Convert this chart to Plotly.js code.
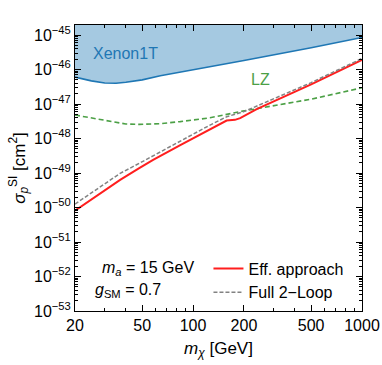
<!DOCTYPE html>
<html><head><meta charset="utf-8">
<script src="https://cdn.plot.ly/plotly-3.0.1.min.js"></script>
<style>html,body{margin:0;padding:0;background:#fff}#chart{width:382px;height:365px}</style>
</head><body><div id="chart"></div>
<script>
// Data (log10 of cross section in cm^2 vs DM mass in GeV)
const xenonMass = [20, 25, 30, 35, 40, 50, 64, 110, 200, 500, 1000];
const xenonLogSigma = [-46.22, -46.33, -46.39, -46.40, -46.37, -46.30, -46.18, -45.98, -45.74, -45.37, -45.07];
const lzMass = [20, 30, 40, 48, 64, 84, 126, 190, 500, 1000];
const lzLogSigma = [-47.32, -47.46, -47.58, -47.59, -47.57, -47.51, -47.40, -47.22, -46.86, -46.53];
const effMass = [20, 30, 37, 48, 58, 84, 126, 158, 177, 190, 238, 500, 1000];
const effLogSigma = [-50.09, -49.51, -49.20, -48.86, -48.62, -48.19, -47.73, -47.48, -47.46, -47.41, -47.15, -46.43, -45.72];
const fullMass = [20, 30, 37, 48, 84, 126, 158, 177, 200, 500, 1000];
const fullLogSigma = [-49.90, -49.32, -49.01, -48.72, -48.07, -47.61, -47.37, -47.30, -47.22, -46.38, -45.68];
const ceilingLogSigma = -44;

const xTickVals = [20, 50, 100, 200, 500, 1000];
const xTickText = ['20', '50', '100', '200', '500', '1000'];
const xMinorVals = [30, 40, 60, 70, 80, 90, 300, 400, 600, 700, 800, 900];
const yDecades = [-53, -52, -51, -50, -49, -48, -47, -46, -45];

const pow10 = a => a.map(v => Math.pow(10, v));
const yTickVals = pow10(yDecades);
const yTickText = yDecades.map(d => '10<sup>\u2212' + Math.abs(d) + '</sup>');
const yMinorVals = [];
yDecades.forEach(d => { for (let k = 2; k <= 9; k++) yMinorVals.push(k * Math.pow(10, d)); });

const blue = 'rgb(31,119,180)';
const green = 'rgb(76,160,70)';
const FONT = 'Liberation Sans, Arial, sans-serif';

const traces = [
  {x: [xenonMass[0], xenonMass[xenonMass.length - 1]], y: pow10([ceilingLogSigma, ceilingLogSigma]),
   mode: 'lines', line: {width: 0, color: blue}, showlegend: false, hoverinfo: 'skip'},
  {x: xenonMass, y: pow10(xenonLogSigma), mode: 'lines', fill: 'tonexty',
   fillcolor: 'rgba(31,119,180,0.4)', line: {color: blue, width: 1.6}, showlegend: false},
  {x: lzMass, y: pow10(lzLogSigma), mode: 'lines', line: {color: green, width: 1.6, dash: '5px,3px'}, showlegend: false},
  {x: effMass, y: pow10(effLogSigma), mode: 'lines', name: 'Eff. approach', line: {color: 'rgb(255,30,30)', width: 2}},
  {x: fullMass, y: pow10(fullLogSigma), mode: 'lines', name: 'Full 2\u2212Loop', line: {color: 'rgb(130,130,130)', width: 1.5, dash: '4px,2px'}}
];

const layout = {
  width: 382, height: 365,
  margin: {l: 75, r: 20, t: 25, b: 54},
  paper_bgcolor: '#fff', plot_bgcolor: '#fff',
  font: {family: FONT, size: 16, color: '#000'},
  showlegend: true,
  legend: {x: 0.465, y: 0.208, xanchor: 'left', yanchor: 'top', bgcolor: 'rgba(0,0,0,0)', traceorder: 'normal',
           font: {family: FONT, size: 16, color: '#000'}, tracegroupgap: 0},
  xaxis: {
    type: 'log', range: [Math.log10(20), 3],
    tickmode: 'array', tickvals: xTickVals, ticktext: xTickText,
    ticks: 'inside', ticklen: 6, tickwidth: 1, tickcolor: '#000',
    minor: {tickmode: 'array', tickvals: xMinorVals, ticks: 'inside', ticklen: 3, tickwidth: 1, tickcolor: '#000'},
    showline: true, linecolor: '#000', linewidth: 1, mirror: 'allticks',
    showgrid: false, zeroline: false,
    tickfont: {family: FONT, size: 16},
    title: {text: '<i>m</i><sub><i>\u03c7</i></sub> [GeV]', font: {family: FONT, size: 17}, standoff: 8}
  },
  yaxis: {
    type: 'log', range: [-53, -44.71],
    tickmode: 'array', tickvals: yTickVals, ticktext: yTickText,
    ticks: 'inside', ticklen: 6, tickwidth: 1, tickcolor: '#000',
    minor: {tickmode: 'array', tickvals: yMinorVals, ticks: 'inside', ticklen: 3, tickwidth: 1, tickcolor: '#000'},
    showline: true, linecolor: '#000', linewidth: 1, mirror: 'allticks',
    showgrid: false, zeroline: false,
    tickfont: {family: FONT, size: 16},
    title: {text: '<i>\u03c3</i><sub><i>p</i></sub><sup>SI</sup> [cm<sup>2</sup>]', font: {family: FONT, size: 17}, standoff: 4}
  },
  annotations: [
    {xref: 'paper', yref: 'paper', x: 0.1745, y: 0.902, text: 'Xenon1T', showarrow: false,
     font: {family: FONT, size: 16, color: blue}, xanchor: 'center', yanchor: 'middle'},
    {xref: 'paper', yref: 'paper', x: 0.6457, y: 0.81, text: 'LZ', showarrow: false,
     font: {family: FONT, size: 16, color: green}, xanchor: 'center', yanchor: 'middle'},
    {xref: 'paper', yref: 'paper', x: 0.087, y: 0.147, text: '<i>m</i><sub><i>a</i></sub> = 15 GeV', showarrow: false,
     font: {family: FONT, size: 16, color: '#000'}, xanchor: 'left', yanchor: 'middle'},
    {xref: 'paper', yref: 'paper', x: 0.063, y: 0.073, text: '<i>g</i><sub>SM</sub> = 0.7', showarrow: false,
     font: {family: FONT, size: 16, color: '#000'}, xanchor: 'left', yanchor: 'middle'}
  ]
};

Plotly.newPlot('chart', traces, layout, {staticPlot: true, displayModeBar: false});
</script>
</body></html>
